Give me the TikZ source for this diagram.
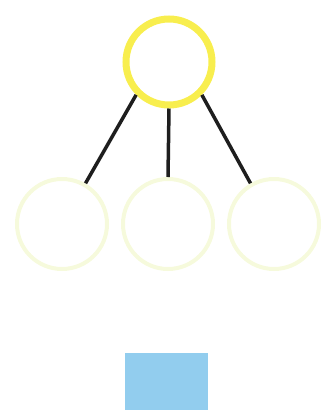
\documentclass[tikz,border=0pt]{standalone}
\usetikzlibrary{positioning}
\definecolor{rootyellow}{RGB}{248,238,78}
\definecolor{leafyellow}{RGB}{246,250,220}
\definecolor{boxblue}{RGB}{146,205,238}
\definecolor{linkgray}{RGB}{30,30,30}
\tikzset{
  rootnode/.style={
    circle,
    draw=rootyellow,
    line width=7pt,
    minimum size=86pt,
    inner sep=0pt
  },
  leafnode/.style={
    circle,
    draw=leafyellow,
    line width=4pt,
    minimum size=90pt,
    inner sep=0pt
  },
  link/.style={draw=linkgray, line width=3.5pt},
  block/.style={
    rectangle,
    fill=boxblue,
    minimum width=83pt,
    minimum height=57pt,
    inner sep=0pt
  }
}
\begin{document}
\begin{tikzpicture}[x=1pt,y=1pt]
\useasboundingbox (0,0) rectangle (334,-416);
\node[rootnode] (root) at (169,-62) {};
\node[leafnode] (leafl) at (62,-224) {};
\node[leafnode] (leafm) at (168,-224) {};
\node[leafnode] (leafr) at (274,-224) {};
\node[block] (box) at (166.5,-381.5) {};

\draw[link] (root.south west) -- (leafl.60);
\draw[link] (root.south) -- (leafm.north);
\draw[link] (root.south east) -- (leafr.120);
\end{tikzpicture}
\end{document}
